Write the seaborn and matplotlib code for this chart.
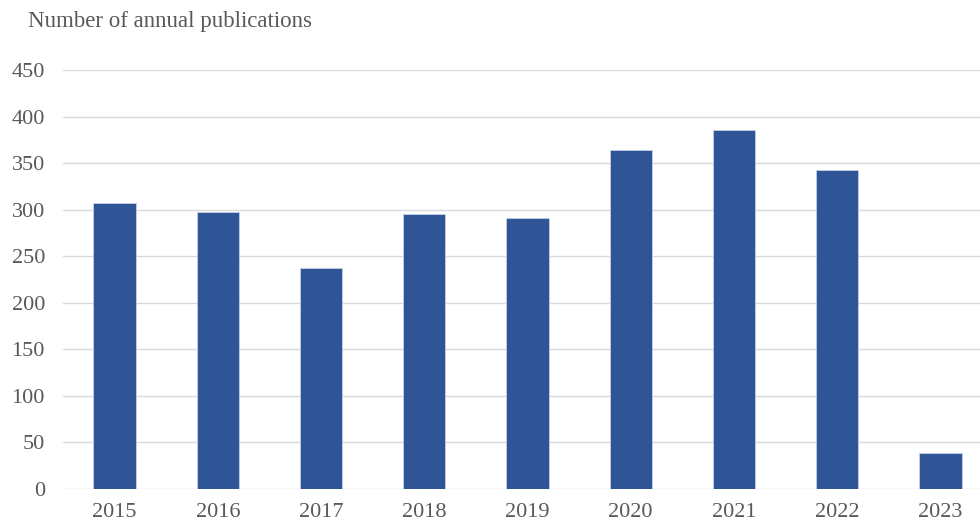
import matplotlib
matplotlib.use("Agg")
import matplotlib.pyplot as plt
import seaborn as sns
import pandas as pd

years = ["2015", "2016", "2017", "2018", "2019", "2020", "2021", "2022", "2023"]
publications = [307, 298, 237, 295, 291, 364, 386, 343, 39]
y_ticks = [0, 50, 100, 150, 200, 250, 300, 350, 400, 450]

df = pd.DataFrame({"year": years, "count": publications})

sns.set_theme(style="white")
plt.rcParams["font.family"] = ["Liberation Serif", "DejaVu Serif"]

fig = plt.figure(figsize=(9.8, 5.23), dpi=100)
ax = fig.add_axes([63 / 980, 1 - 489 / 523, (992 - 63) / 980, (489 - 70) / 523])

sns.barplot(data=df, x="year", y="count", color="#2F5597", saturation=1,
            width=0.41, edgecolor="#c5d0e6", linewidth=0.6, ax=ax, zorder=3)

ax.set_ylim(0, 450)
ax.set_yticks(y_ticks)
ax.yaxis.grid(True, color="#d9d9d9", linewidth=1.0, zorder=0)
ax.set_axisbelow(True)
for s in ax.spines.values():
    s.set_visible(False)
ax.set_xlabel("")
ax.set_ylabel("")
ax.tick_params(axis="both", length=0, labelsize=16, labelcolor="#595959")
ax.tick_params(axis="y", pad=13)
ax.tick_params(axis="x", pad=10)

fig.text(28 / 980, 1 - 22 / 523, "Number of annual publications",
         fontsize=16.5, color="#595959", va="center", ha="left")

fig.savefig("out.png", dpi=100)
